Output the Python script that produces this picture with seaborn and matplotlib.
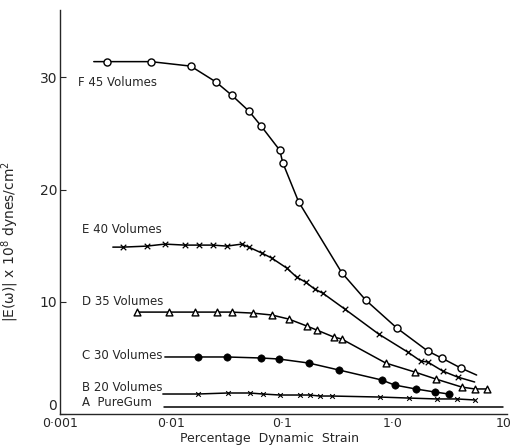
import pandas as pd
import seaborn as sns
from matplotlib import pyplot as plt
from matplotlib.transforms import ScaledTranslation

# strain (%) and |E(w)| (x 10^8 dynes/cm^2)
f_strain = [0.00265, 0.0066, 0.0151, 0.0254, 0.0355, 0.0505, 0.0647, 0.096,
            0.102, 0.142, 0.347, 0.571, 1.09, 2.07, 2.76, 4.10]
f_modulus = [31.4, 31.4, 31.0, 29.6, 28.4, 27.0, 25.7, 23.5,
             22.4, 18.9, 12.6, 10.15, 7.66, 5.61, 4.99, 4.10]

e_strain = [0.0037, 0.00608, 0.00883, 0.01337, 0.01786, 0.0239, 0.032, 0.0436,
            0.0505, 0.0661, 0.0813, 0.111, 0.136, 0.164, 0.198, 0.234,
            0.370, 0.748, 1.365, 1.79, 2.07, 2.82, 3.85]
e_modulus = [14.87, 14.96, 15.14, 15.05, 15.05, 15.05, 14.96, 15.14,
             14.87, 14.34, 13.89, 13.0, 12.2, 11.75, 11.13, 10.77,
             9.35, 7.12, 5.52, 4.72, 4.63, 3.83, 3.29]

d_strain = [0.00494, 0.00959, 0.01644, 0.0259, 0.0355, 0.0548, 0.0813, 0.1156,
            0.168, 0.207, 0.294, 0.347, 0.865, 1.58, 2.44, 4.19, 5.48, 7.03]
d_modulus = [9.08, 9.08, 9.08, 9.08, 9.08, 8.99, 8.82, 8.46,
             7.84, 7.48, 6.86, 6.68, 4.54, 3.74, 3.12, 2.40, 2.23, 2.23]

c_strain = [0.0175, 0.032, 0.0647, 0.094, 0.175, 0.327, 0.796, 1.04, 1.61, 2.39, 3.20]
c_modulus = [5.08, 5.08, 4.99, 4.90, 4.54, 3.92, 3.03, 2.58, 2.23, 1.96, 1.78]

b_strain = [0.0175, 0.0327, 0.0515, 0.0674, 0.096, 0.145, 0.179, 0.22,
            0.282, 0.763, 1.39, 2.49, 3.77, 5.48]
b_modulus = [1.78, 1.87, 1.87, 1.78, 1.69, 1.69, 1.69, 1.60,
             1.60, 1.51, 1.42, 1.34, 1.34, 1.25]

a_strain = [0.0087, 9.8]
a_modulus = [0.6, 0.6]

# where each hand-drawn curve starts / stops beyond the first / last point
line_ends = {
    "F": ([0.00202, 5.71], [31.4, 3.47]),
    "E": ([0.0030, 5.48], [14.87, 2.85]),
    "D": ([None, None], [None, None]),
    "C": ([0.00883, None], [5.08, None]),
    "B": ([0.00847, None], [1.78, None]),
}

series = {
    "F": (f_strain, f_modulus, "F 45 Volumes"),
    "E": (e_strain, e_modulus, "E 40 Volumes"),
    "D": (d_strain, d_modulus, "D 35 Volumes"),
    "C": (c_strain, c_modulus, "C 30 Volumes"),
    "B": (b_strain, b_modulus, "B 20 Volumes"),
}
label_pos = {"F": (0.00145, 29.5), "E": (0.00158, 16.4), "D": (0.00158, 10.06),
             "C": (0.00158, 5.25), "B": (0.00158, 2.4), "A": (0.00158, 0.98)}

marker_style = {
    "F": dict(marker="o", s=26, facecolor="white", edgecolor="black", linewidth=1.0),
    "E": dict(marker="x", s=16, color="black", linewidth=0.9),
    "D": dict(marker="^", s=24, facecolor="white", edgecolor="black", linewidth=1.0),
    "C": dict(marker="o", s=28, color="black", edgecolor="black"),
    "B": dict(marker="x", s=11, color="black", linewidth=0.8),
}

sns.set_style("ticks")
plt.rcParams["font.family"] = ["DejaVu Sans"]

fig = plt.figure(figsize=(5.12, 4.45), dpi=100)
ax = fig.add_axes([0.117, 0.0697, 0.873, 0.9078])

for key, (xs, ys, name) in series.items():
    (x0, x1), (y0, y1) = line_ends[key]
    lx = ([x0] if x0 else []) + list(xs) + ([x1] if x1 else [])
    ly = ([y0] if y0 else []) + list(ys) + ([y1] if y1 else [])
    line_df = pd.DataFrame({"strain": lx, "modulus": ly})
    sns.lineplot(data=line_df, x="strain", y="modulus", sort=False,
                 estimator=None, color="black", linewidth=1.1, ax=ax, zorder=2)
    pts = pd.DataFrame({"strain": xs, "modulus": ys})
    sns.scatterplot(data=pts, x="strain", y="modulus", ax=ax, zorder=3,
                    **marker_style[key])
    ax.text(*label_pos[key], name, ha="left", va="center", fontsize=8.5)

a_df = pd.DataFrame({"strain": a_strain, "modulus": a_modulus})
sns.lineplot(data=a_df, x="strain", y="modulus", estimator=None,
             color="black", linewidth=1.1, ax=ax)
ax.text(*label_pos["A"], "A  PureGum", ha="left", va="center", fontsize=8.5)

ax.set_xscale("log")
ax.set_xlim(0.001, 10.7)
ax.set_ylim(0, 36)
ax.set_xticks([0.001, 0.01, 0.1, 1, 10])
ax.set_xticklabels(["0·001", "0·01", "0·1", "1·0", "10"])
ax.minorticks_off()
ax.set_yticks([0, 10, 20, 30])
ax.tick_params(axis="y", direction="in", length=4, pad=2, labelsize=10)
ax.tick_params(axis="x", direction="in", length=0, pad=2, labelsize=9)
sns.despine(ax=ax)
for sp in ax.spines.values():
    sp.set_linewidth(1.0)

# the "0" sits just above the baseline, clear of "0·001"
zero_label = ax.get_yticklabels()[0]
zero_label.set_verticalalignment("bottom")
zero_label.set_transform(zero_label.get_transform()
                         + ScaledTranslation(0, 0.01, fig.dpi_scale_trans))

ax.set_xlabel("Percentage  Dynamic  Strain", fontsize=9)
ax.xaxis.set_label_coords(0.47, -0.045)
ax.set_ylabel("|E(ω)| x 10$^8$ dynes/cm$^2$", fontsize=10)
ax.yaxis.set_label_coords(-0.087, 0.428)

fig.savefig("out.png", dpi=100)
